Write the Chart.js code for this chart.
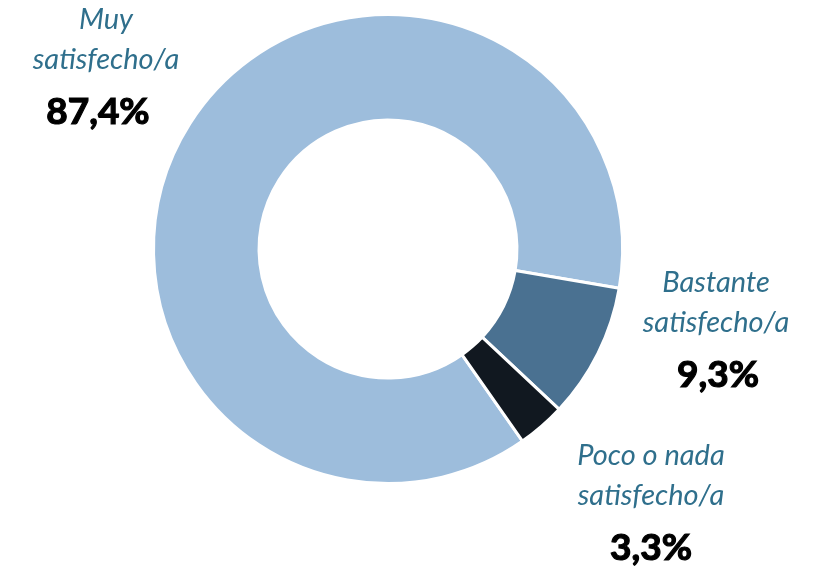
<!DOCTYPE html>
<html lang="es">
<head>
<meta charset="utf-8">
<title>Satisfacción</title>
<script src="https://cdn.jsdelivr.net/npm/chart.js@4"></script>
<style>
  html, body { margin: 0; padding: 0; background: #ffffff; }
  #wrap { width: 813px; height: 566px; position: relative; }
</style>
</head>
<body>
<div id="wrap"><canvas id="grafico"></canvas></div>
<script>
// datos
const categorias = [['Muy', 'satisfecho/a'], ['Bastante', 'satisfecho/a'], ['Poco o nada', 'satisfecho/a']];
const valores    = [87.4, 9.3, 3.3];
const etiquetas  = ['87,4%', '9,3%', '3,3%'];
const colores    = ['#9dbddc', '#4a7191', '#111820'];

// posición del texto de cada categoría (centro x, y de la primera línea)
const posTexto = [
  { x: 106, y: 20 },
  { x: 716, y: 283 },
  { x: 651, y: 456 },
];

const etiquetasPlugin = {
  id: 'etiquetas',
  afterDraw(chart) {
    const ctx = chart.ctx;
    ctx.save();
    ctx.textAlign = 'center';
    ctx.textBaseline = 'middle';
    categorias.forEach((lineas, i) => {
      const p = posTexto[i];
      ctx.fillStyle = '#2f6f8c';
      ctx.font = 'italic 29px Lato, "Open Sans", sans-serif';
      lineas.forEach((l, j) => ctx.fillText(l, p.x, p.y + j * 40));
      ctx.fillStyle = '#000000';
      ctx.font = 'bold 37px Lato, "Open Sans", sans-serif';
      ctx.lineWidth = 1.2;
      ctx.strokeStyle = '#000000';
      const tx = p.x - 8 * (i === 0) + 2 * (i === 1);
      const ty = p.y + lineas.length * 40 + 12;
      ctx.fillText(etiquetas[i], tx, ty);
      ctx.strokeText(etiquetas[i], tx, ty);
    });
    ctx.restore();
  }
};

new Chart(document.getElementById('grafico'), {
  type: 'doughnut',
  data: {
    labels: categorias.map(c => c.join(' ')),
    datasets: [{
      data: valores,
      backgroundColor: colores,
      borderColor: '#ffffff',
      borderWidth: 3,
    }]
  },
  options: {
    responsive: true,
    maintainAspectRatio: false,
    animation: false,
    cutout: '55%',
    rotation: 145,
    layout: { padding: { left: 152, right: 189, top: 13, bottom: 81 } },
    plugins: {
      legend: { display: false },
      tooltip: { enabled: false }
    }
  },
  plugins: [etiquetasPlugin]
});
</script>
</body>
</html>
